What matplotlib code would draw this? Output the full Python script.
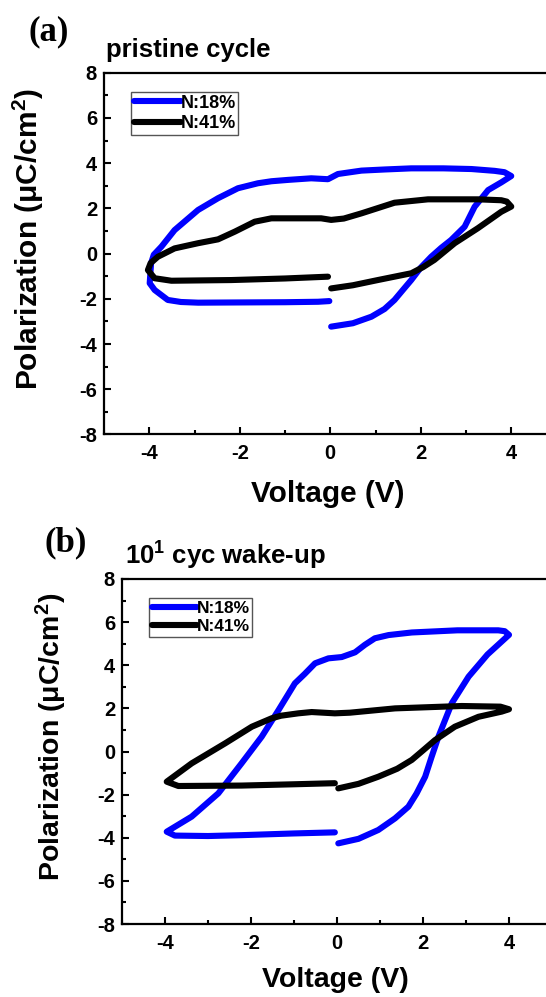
import matplotlib
matplotlib.use("Agg")
import matplotlib.pyplot as plt
from matplotlib.ticker import MultipleLocator

plt.rcParams['font.family'] = ['Liberation Sans', 'DejaVu Sans']
plt.rcParams['font.weight'] = 'bold'
plt.rcParams['axes.unicode_minus'] = False
plt.rcParams['mathtext.fontset'] = 'custom'
plt.rcParams['mathtext.rm'] = 'Liberation Sans:bold'
plt.rcParams['mathtext.bf'] = 'Liberation Sans:bold'
plt.rcParams['mathtext.it'] = 'Liberation Sans:bold'

# ---------------- data ----------------
labels = ["N:18%", "N:41%"]
colors = ["#0000ff", "#000000"]

# (a) pristine cycle
a_v18 = [0.02, 0.5, 0.91, 1.2, 1.42, 1.6, 1.79, 2.0, 2.23, 2.45, 2.67, 2.97, 3.19, 3.49, 3.78, 4.0, 3.85, 3.63, 3.12, 2.5, 1.79,
         1.2, 0.69, 0.17, -0.05, -0.42, -0.93, -1.3, -1.6, -2.04, -2.48, -2.92, -3.44, -3.73, -3.9, -3.96, -3.99, -3.88,
         -3.59, -3.3, -2.92, -2.0, -1.0, -0.27, -0.02]
a_p18 = [-3.23, -3.08, -2.79, -2.45, -2.05, -1.62, -1.17, -0.62, -0.14, 0.25, 0.6, 1.19, 2.07, 2.81, 3.15, 3.43, 3.6, 3.66, 3.74, 3.77, 3.77,
         3.72, 3.67, 3.52, 3.29, 3.33, 3.26, 3.2, 3.11, 2.89, 2.45, 1.93, 1.04, 0.31, -0.05, -0.43, -1.31, -1.61,
         -2.05, -2.14, -2.17, -2.16, -2.15, -2.13, -2.1]
a_v41 = [0.02, 0.5, 1.05, 1.79, 2.05, 2.3, 2.75, 3.26, 3.78, 4.0, 3.9, 3.78, 3.26, 2.16, 1.42, 0.69, 0.3, 0.02,
         -0.2, -1.3, -1.67, -2.11, -2.48, -2.92, -3.44, -3.81, -3.97, -4.03, -3.88, -3.51, -2.19, -1.0, -0.05]
a_p41 = [-1.54, -1.4, -1.17, -0.87, -0.6, -0.28, 0.46, 1.12, 1.85, 2.08, 2.3, 2.36, 2.4, 2.4, 2.25, 1.78, 1.55, 1.49,
         1.56, 1.56, 1.41, 0.97, 0.63, 0.46, 0.23, -0.14, -0.42, -0.73, -1.09, -1.2, -1.17, -1.1, -1.02]

# (b) 10^1 cyc wake-up
b_v18 = [0.03, 0.5, 0.96, 1.35, 1.66, 1.85, 2.05, 2.2, 2.36, 2.67, 3.06, 3.5, 3.83, 4.0, 3.9, 3.75, 2.8, 1.74, 1.2, 0.88,
         0.65, 0.42, 0.11, -0.2, -0.51, -0.75, -0.98, -1.36, -1.75, -2.22, -2.76, -3.38, -3.96, -3.77, -3.0,
         -2.22, -1.0, -0.05]
b_p18 = [-4.26, -4.05, -3.64, -3.1, -2.56, -1.95, -1.17, -0.25, 0.69, 2.24, 3.47, 4.5, 5.1, 5.41, 5.58, 5.62, 5.62, 5.52, 5.4, 5.25,
         4.95, 4.6, 4.38, 4.32, 4.09, 3.6, 3.16, 1.92, 0.69, -0.55, -1.94, -3.02, -3.72, -3.9, -3.92,
         -3.88, -3.8, -3.75]
b_v41 = [0.03, 0.5, 0.96, 1.4, 1.74, 2.0, 2.28, 2.74, 3.29, 3.83, 4.0, 3.8, 2.9, 1.35, 0.3, -0.05,
         -0.59, -0.9, -1.3, -1.52, -1.98, -2.6, -3.38, -3.96, -3.69, -2.22, -1.0, -0.05]
b_p41 = [-1.71, -1.5, -1.17, -0.8, -0.39, 0.05, 0.53, 1.15, 1.61, 1.85, 1.96, 2.08, 2.11, 2.0, 1.8, 1.77,
         1.83, 1.77, 1.66, 1.54, 1.15, 0.38, -0.55, -1.4, -1.6, -1.58, -1.52, -1.47]

xticks = [-4, -2, 0, 2, 4]
yticks = [-8, -6, -4, -2, 0, 2, 4, 6, 8]

# ---------------- figure ----------------
W, H = 546, 997
fig = plt.figure(figsize=(W / 100, H / 100), dpi=100)


def px_axes(left, top, right, bottom):
    return fig.add_axes([left / W, (H - bottom) / H, (right - left) / W, (bottom - top) / H])


def style(ax, legend_xy, xlab_size, ylab_size, leg_size):
    ax.set_xlim(-5, 6)
    ax.set_ylim(-8, 8)
    ax.set_xticks(xticks)
    ax.set_yticks(yticks)
    ax.xaxis.set_minor_locator(MultipleLocator(1))
    ax.yaxis.set_minor_locator(MultipleLocator(1))
    ax.tick_params(which='major', direction='in', length=5, width=1.5, labelsize=14.5)
    ax.tick_params(which='minor', direction='in', length=3, width=1.5)
    ax.tick_params(axis='x', which='major', pad=7)
    ax.tick_params(axis='y', which='major', pad=5)
    for lab in ax.get_xticklabels() + ax.get_yticklabels():
        lab.set_fontweight('bold')
    for s in ax.spines.values():
        s.set_linewidth(1.6)
    ax.set_xlabel('Voltage (V)', fontsize=xlab_size, fontweight='bold')
    ax.set_ylabel('Polarization (μC/cm$^{2}$)', fontsize=ylab_size, fontweight='bold')
    leg = ax.legend(loc='upper left', bbox_to_anchor=legend_xy, borderaxespad=0,
                    fancybox=False, edgecolor='#555555', framealpha=1,
                    prop={'size': leg_size, 'weight': 'bold'}, handlelength=2.6,
                    handletextpad=0.0, labelspacing=0.2, borderpad=0.15)
    leg.get_frame().set_linewidth(1.0)


LW = 4.4

# panel (a)
ax1 = px_axes(104, 72.7, 104 + 11 * 45.25, 434.5)
ax1.plot(a_v18, a_p18, color=colors[0], lw=LW, solid_capstyle='round', solid_joinstyle='round', label=labels[0])
ax1.plot(a_v41, a_p41, color=colors[1], lw=LW, solid_capstyle='round', solid_joinstyle='round', label=labels[1])
style(ax1, (0.054, 0.947), 21.5, 21.5, 13)
ax1.xaxis.set_label_coords(0.449, -0.126)
ax1.yaxis.set_label_coords(-0.1165, 0.540)

# panel (b)
ax2 = px_axes(122, 579, 122 + 11 * 43, 924)
ax2.plot(b_v18, b_p18, color=colors[0], lw=LW, solid_capstyle='round', solid_joinstyle='round', label=labels[0])
ax2.plot(b_v41, b_p41, color=colors[1], lw=LW, solid_capstyle='round', solid_joinstyle='round', label=labels[1])
style(ax2, (0.057, 0.945), 20.5, 20.5, 12.5)
ax2.xaxis.set_label_coords(0.452, -0.125)
ax2.yaxis.set_label_coords(-0.112, 0.543)

# titles and panel labels
fig.text(106 / W, 1 - 57 / H, 'pristine cycle', fontsize=18.5, fontweight='bold', ha='left', va='baseline')
fig.text(125 / W, 1 - 565 / H, '10$^{1}$ cyc wake-up', fontsize=18.5, fontweight='bold', ha='left', va='baseline')
fig.text(29 / W, 1 - 32 / H, '(a)', fontsize=25, fontweight='bold', family='Liberation Serif', ha='left', va='center')
fig.text(45 / W, 1 - 543 / H, '(b)', fontsize=25, fontweight='bold', family='Liberation Serif', ha='left', va='center')

fig.savefig('out.png', dpi=100)
